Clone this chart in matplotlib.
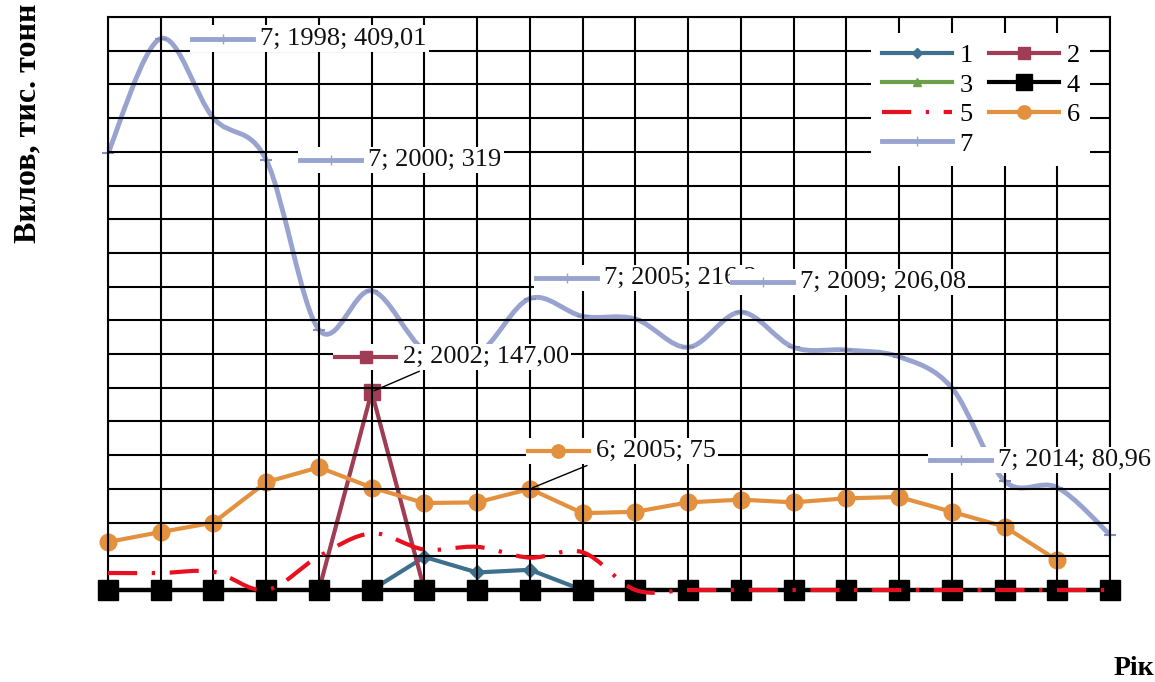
import matplotlib
matplotlib.use('Agg')
import matplotlib.pyplot as plt
import numpy as np
from matplotlib.path import Path
from matplotlib.patches import PathPatch
from matplotlib.lines import Line2D
from matplotlib.offsetbox import AnnotationBbox, DrawingArea, TextArea, HPacker

plt.rcParams['font.family'] = ['Liberation Serif', 'DejaVu Serif']

# --- дані ---
years = list(range(1997, 2017))
s1 = [0, 0, 0, 0, 0, 0, 24.5, 13, 15, 0, 0, 0, 0, 0, 0, 0, 0, 0, 0, 0]
s2 = [0, 0, 0, 0, 0, 147.0, 0, 0, 0, 0, 0, 0, 0, 0, 0, 0, 0, 0, 0, 0]
s3 = [0] * 20
s4 = [0] * 20
s5 = [12.6, 12.6, 13.5, 0, 25, 42, 30, 32, 24, 28, 0, 0, 0, 0, 0, 0, 0, 0, 0, 0]
s6 = [35.6, 43, 50, 80, 91, 76, 64.5, 65, 75, 57, 58, 65, 67, 65, 68, 69, 58, 47, 22, np.nan]
s7 = [324, 409.01, 350, 319, 193, 222, 178, 175, 216.2, 203, 201, 180, 206.08,
      180, 178, 173, 150, 80.96, 76, 41]

# підписи даних: (серія, рік, текст, зсув у пт)
labels = [
    ('7', 1998, '7; 1998; 409,01', (107, 0)),
    ('7', 2000, '7; 2000; 319', (97, 0)),
    ('7', 2005, '7; 2005; 216,2', (84, 15)),
    ('7', 2009, '7; 2009; 206,08', (78, 22)),
    ('2', 2002, '2; 2002; 147,00', (58, 25)),
    ('6', 2005, '6; 2005; 75', (66, 27)),
    ('7', 2014, '7; 2014; 80,96', (26, 15)),
]

C1, C2, C3, C4 = '#3e6f8c', '#a03d55', '#6b9f48', '#000000'
C5, C6, C7 = '#e8101e', '#e3913f', '#98a4cf'
style = {
    '1': dict(color=C1, lw=3, marker='D', ms=7),
    '2': dict(color=C2, lw=3, marker='s', ms=11),
    '3': dict(color=C3, lw=3, marker='^', ms=8),
    '4': dict(color=C4, lw=3, marker='s', ms=14),
    '5': dict(color=C5, lw=3, ls=(0, (7, 3.5, 0.8, 3.5)), marker=None, ms=0),
    '6': dict(color=C6, lw=3, marker='o', ms=12),
    '7': dict(color=C7, lw=3.5, marker='+', ms=9),
}
data = {'1': s1, '2': s2, '3': s3, '4': s4, '5': s5, '6': s6, '7': s7}


def smooth_path(x, y):
    # згладжена лінія як у Excel (Catmull-Rom -> Bezier)
    n = len(x)
    verts = [(x[0], y[0])]
    codes = [Path.MOVETO]
    for i in range(n - 1):
        a = i - 1 if i > 0 else i
        d = i + 2 if i + 2 < n else i + 1
        c1 = (x[i] + (x[i + 1] - x[a]) / 6, y[i] + (y[i + 1] - y[a]) / 6)
        c2 = (x[i + 1] - (x[d] - x[i]) / 6, y[i + 1] - (y[d] - y[i]) / 6)
        verts += [c1, c2, (x[i + 1], y[i + 1])]
        codes += [Path.CURVE4] * 3
    return Path(verts, codes)


fig = plt.figure(figsize=(11.55, 6.82), dpi=100)
ax = fig.add_axes([108 / 1155, 1 - 590 / 682, 1002 / 1155, 573 / 682])
ax.set_xlim(1997, 2016)
ax.set_ylim(0, 425)
ax.set_xticks(years)
ax.set_yticks(np.arange(0, 426, 25))
ax.set_xticklabels([])
ax.set_yticklabels([])
ax.tick_params(length=0)
ax.grid(True, color='black', lw=1.5)
ax.set_axisbelow(False)
for sp in ax.spines.values():
    sp.set_color('black')
    sp.set_linewidth(1.5)

# серії 1-4 - ламані
for key in ['1', '2', '3', '4']:
    st = style[key]
    ax.plot(years, data[key], color=st['color'], lw=st['lw'], marker=st['marker'],
            ms=st['ms'], mec=st['color'], clip_on=False, zorder=2)

# серія 5 - згладжена штрихпунктирна
ax.add_patch(PathPatch(smooth_path(years, s5), fill=False, ec=C5, lw=3,
                       ls=style['5']['ls'], zorder=2.6, clip_on=False))

ax.plot(years, s6, color=C6, lw=3, marker='o', ms=12, mec=C6, clip_on=False, zorder=2)

# серія 7 - згладжена
ax.add_patch(PathPatch(smooth_path(years, s7), fill=False, ec=C7, lw=3.5, zorder=2))
ax.plot(years, s7, ls='none', marker='+', ms=9, mew=1.5, color='#8490bb', clip_on=False, zorder=2)


def key_area(k):
    st = style[k]
    da = DrawingArea(44, 14, 0, 0)
    da.add_artist(Line2D([0, 44], [7, 7], color=st['color'], lw=st['lw'],
                         ls=st.get('ls', '-')))
    if st['marker']:
        da.add_artist(Line2D([22], [7], marker=st['marker'], ms=st['ms'] * 0.8,
                             color=st['color'], mec=st['color']))
    return da


for k, yr, txt, off in labels:
    val = data[k][years.index(yr)]
    box = HPacker(children=[key_area(k),
                            TextArea(txt, textprops=dict(fontsize=19, color='#111111'))],
                  sep=5, align='center')
    arrow = dict(arrowstyle='-', color='black', lw=1) if k in ('2', '6') else None
    ab = AnnotationBbox(box, (yr, val), xybox=off, boxcoords='offset points',
                        frameon=True, pad=0.15, box_alignment=(0.5, 0.5),
                        bboxprops=dict(fc='white', ec='none'),
                        arrowprops=arrow, zorder=6)
    ax.add_artist(ab)

# легенда (заповнення по рядках)
order = ['1', '3', '5', '7', '2', '4', '6']
handles = []
for k in order:
    st = style[k]
    handles.append(Line2D([], [], color=st['color'], lw=st['lw'], ls=st.get('ls', '-'),
                          marker=st['marker'], ms=st['ms'] * 0.8, mec=st['color']))
leg = ax.legend(handles, order, loc='upper left', bbox_to_anchor=(0.7485, 0.995),
                ncol=2, fontsize=19, frameon=True, framealpha=1, edgecolor='none',
                fancybox=False, handlelength=2.65, handletextpad=0.3,
                labelspacing=0.23, columnspacing=0.6, borderpad=0.4)
leg.set_zorder(7)

fig.text(0.024, 0.995, 'Вилов, тис. тонн', rotation=90, va='top', ha='center',
         fontsize=23, fontweight='bold')
fig.text(0.999, 0.02, 'Рік', ha='right', va='center', fontsize=20, fontweight='bold')

fig.savefig('out.png', dpi=100, facecolor='white')
